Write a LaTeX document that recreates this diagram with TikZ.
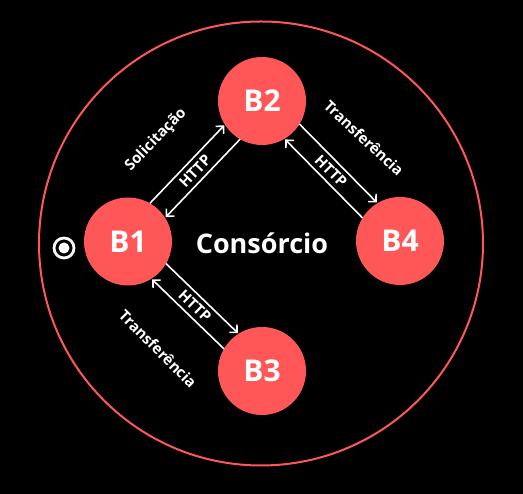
\documentclass[tikz,border=0pt]{standalone}
\usepackage{fontspec}
\setmainfont{Open Sans}
\usetikzlibrary{arrows.meta,calc}
\definecolor{cred}{RGB}{255,87,87}
\newcommand\twoway[2]{%
  \draw[arr] ($(#1)!10.5pt!90:(#2)$) -- ($(#2)!10.5pt!-90:(#1)$);
  \draw[arr] ($(#2)!10.5pt!90:(#1)$) -- ($(#1)!10.5pt!-90:(#2)$);}
\begin{document}
\begin{tikzpicture}[x=1pt,y=1pt,
  bnode/.style={circle,fill=cred,minimum size=88pt,inner sep=0pt,text=white,
    font=\bfseries\fontsize{30}{30}\selectfont},
  lbl/.style={text=white,font=\bfseries\fontsize{15}{15}\selectfont,inner sep=1pt},
  arr/.style={draw=white,line width=1.6pt,-{Straight Barb[length=5.5pt,width=11pt]},
    shorten <=42.7pt,shorten >=43.7pt}]
\fill[black] (0,0) rectangle (523,494);
\useasboundingbox (0,0) rectangle (523,494);
\draw[cred,line width=2pt] (261,250.5) circle[radius=222];
\node[bnode] (b1) at (128,252.5) {B1};
\node[bnode] (b2) at (262,393) {B2};
\node[bnode] (b3) at (262,123) {B3};
\node[bnode] (b4) at (400,253) {B4};
\node[circle,draw=white,line width=2.8pt,minimum size=20pt,inner sep=0pt] (tgt) at (64,246) {};
\fill[white] (tgt.center) circle[radius=5.5];
\node[text=white,font=\bfseries\fontsize{27}{27}\selectfont] (cons) at (262,251) {Consórcio};
\twoway{b1}{b2}
\twoway{b2}{b4}
\twoway{b1}{b3}
\path (b1) -- node[lbl,sloped] (h12) {HTTP} (b2);
\path (b2) -- node[lbl,sloped] (h24) {HTTP} (b4);
\path (b1) -- node[lbl,sloped] (h13) {HTTP} (b3);
\node[lbl,rotate=46] (sol) at (156,354) {Solicitação};
\node[lbl,rotate=-43] (tr24) at (364,356) {Transferência};
\node[lbl,rotate=-45] (tr13) at (158,145) {Transferência};
\end{tikzpicture}
\end{document}
